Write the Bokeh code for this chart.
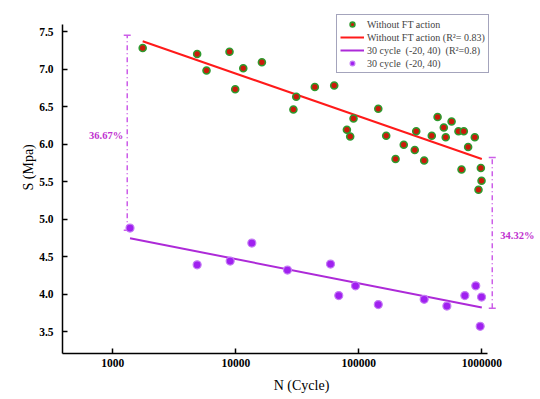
from bokeh.plotting import figure
from bokeh.models import (ColumnDataSource, Whisker, TeeHead, Label, Legend,
                          LegendItem, FixedTicker, Title)
from bokeh.embed import file_html
from bokeh.resources import INLINE

# ---- data ----
n_noft = [1750, 4850, 5780, 8890, 9890, 11500, 16300, 31000, 29400, 43900,
          63100, 90600, 80000, 85100, 144000, 167000, 232000, 199000, 293000,
          285000, 340000, 392000, 437000, 491000, 509000, 568000, 646000,
          714000, 877000, 774000, 684000, 982000, 995000, 940000]
s_noft = [7.28, 7.20, 6.98, 7.23, 6.73, 7.01, 7.09, 6.63, 6.46, 6.76,
          6.78, 6.34, 6.19, 6.10, 6.47, 6.11, 5.99, 5.80, 6.17,
          5.92, 5.78, 6.11, 6.36, 6.22, 6.09, 6.30, 6.17,
          6.17, 6.09, 5.96, 5.66, 5.68, 5.51, 5.39]

n_ft = [1380, 4850, 9000, 13500, 26300, 58900, 68700, 94000, 144000,
        340000, 520000, 728000, 893000, 995000, 970000]
s_ft = [4.88, 4.39, 4.44, 4.68, 4.32, 4.40, 3.98, 4.11, 3.86,
        3.93, 3.84, 3.98, 4.11, 3.96, 3.57]

fit_noft_n = [1750, 1000000]
fit_noft_s = [7.37, 5.80]
fit_ft_n = [1380, 1000000]
fit_ft_s = [4.744, 3.82]

gap_n = [1310, 1216000]
gap_lo = [4.85, 3.81]
gap_hi = [7.45, 5.82]
gap_text = ["36.67%", "34.32%"]
gap_text_s = [6.11, 4.78]

x_ticks = [1000, 10000, 100000, 1000000]
y_ticks = [3.5, 4.0, 4.5, 5.0, 5.5, 6.0, 6.5, 7.0, 7.5]

FONT = "Liberation Serif"
PURPLE = "#a020f0"
PURPLE_LINE = "#ad2ad8"
PURPLE_LIGHT = "#cc5ee8"
PCT_COLOR = "#c030d0"

p = figure(width=540, height=399, x_axis_type="log",
           x_range=(390, 3000000), y_range=(3.207, 7.807),
           output_backend="svg", toolbar_location=None,
           min_border_left=62, min_border_right=0, min_border_top=8,
           min_border_bottom=46)
p.outline_line_color = None
p.xgrid.grid_line_color = None
p.ygrid.grid_line_color = None

# gap whiskers
wsrc = ColumnDataSource(dict(x=gap_n, lo=gap_lo, hi=gap_hi))
w = Whisker(source=wsrc, base="x", lower="lo", upper="hi", dimension="height",
            line_color=PURPLE_LIGHT, line_width=1.5, line_dash="5 3 1 3",
            upper_head=TeeHead(size=7, line_color=PURPLE_LIGHT, line_width=1.5),
            lower_head=TeeHead(size=7, line_color=PURPLE_LIGHT, line_width=1.5))
p.add_layout(w)

r_line1 = p.line(fit_noft_n, fit_noft_s, line_color="#ff1a1a", line_width=2)
r_line2 = p.line(fit_ft_n, fit_ft_s, line_color=PURPLE_LINE, line_width=2)
r_sc1 = p.scatter(n_noft, s_noft, size=7, fill_color="#cc1a0a",
                  line_color="#2e9a2e", line_width=1.6)
r_sc2 = p.scatter(n_ft, s_ft, size=8, fill_color=PURPLE,
                  line_color="#c47cf4", line_width=1.2)

p.add_layout(Label(x=gap_n[0], y=gap_text_s[0], text=gap_text[0], x_offset=-4,
                   text_align="right", text_baseline="middle",
                   text_font=FONT, text_font_size="10.5px",
                   text_font_style="bold", text_color=PCT_COLOR))
p.add_layout(Label(x=gap_n[1], y=gap_text_s[1], text=gap_text[1], x_offset=8,
                   text_align="left", text_baseline="middle",
                   text_font=FONT, text_font_size="10.5px",
                   text_font_style="bold", text_color=PCT_COLOR))

# axes
xa = p.xaxis[0]
xa.ticker = FixedTicker(ticks=x_ticks)
xa.major_label_overrides = {t: str(t) for t in x_ticks}
xa.bounds = (390, 1112000)
ya = p.yaxis[0]
ya.ticker = FixedTicker(ticks=y_ticks)
ya.major_label_overrides = {t: f"{t:.1f}" for t in y_ticks}
ya.bounds = (3.207, 7.6)
for ax in (xa, ya):
    ax.axis_line_color = "black"
    ax.axis_line_width = 1.5
    ax.major_tick_in = 5
    ax.major_tick_out = 0
    ax.major_tick_line_width = 1.5
    ax.minor_tick_line_color = None
    ax.major_label_text_font = FONT
    ax.major_label_text_font_style = "bold"
    ax.major_label_text_font_size = "11.5px"
    ax.major_label_text_color = "black"
xa.major_label_standoff = 5
ya.major_label_standoff = 9

# axis titles as side titles (so they can be offset like the reference)
p.add_layout(Title(text="S (Mpa)", align="left", offset=163, standoff=2,
                   text_font=FONT, text_font_size="14px",
                   text_font_style="normal", text_color="black"), "left")
p.add_layout(Title(text="N (Cycle)", align="center", offset=-27, standoff=12,
                   text_font=FONT, text_font_size="14px",
                   text_font_style="normal", text_color="black"), "below")

legend = Legend(items=[
    LegendItem(label="Without FT action", renderers=[r_sc1]),
    LegendItem(label="Without FT action (R\u00b2= 0.83)", renderers=[r_line1]),
    LegendItem(label="30 cycle  (-20, 40)  (R\u00b2=0.8)", renderers=[r_line2]),
    LegendItem(label="30 cycle  (-20, 40)", renderers=[r_sc2]),
], location=(274, 280))
legend.margin = 0
legend.padding = 3
legend.spacing = 1
legend.label_height = 12
legend.glyph_height = 12
legend.glyph_width = 24
legend.label_standoff = 3
legend.label_text_font = FONT
legend.label_text_font_size = "10px"
legend.border_line_color = "#4a4a7a"
legend.border_line_width = 1
legend.background_fill_alpha = 1
p.add_layout(legend)

open("out.html", "w").write(file_html(p, INLINE))
